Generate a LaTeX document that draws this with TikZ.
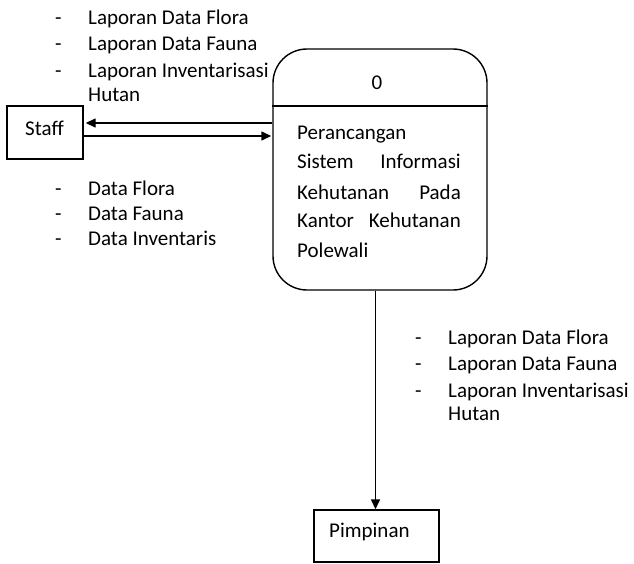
\documentclass[tikz,border=0pt]{standalone}
\usepackage{fontspec}
\setmainfont{Carlito}
\usetikzlibrary{arrows.meta}
\begin{document}
\begin{tikzpicture}[x=1pt,y=-1pt,
  txt/.style={anchor=base west,inner sep=0pt,font=\fontsize{21}{25}\selectfont},
  box/.style={draw,line width=1.4pt,inner sep=0pt},
  flow/.style={line width=1.4pt,-{Triangle[length=10pt,width=9pt]}}]
\useasboundingbox (0,0) rectangle (634,563);
% external entities
\node[box,minimum width=76pt,minimum height=53pt] (staff) at (45,132.5) {};
\node[txt] (staffl) at (25,135) {Staff};
\node[box,minimum width=125pt,minimum height=52pt] (pim) at (376.5,536) {};
\node[txt] (piml) at (329,537) {Pimpinan};
% process
\node[box,rounded corners=34pt,minimum width=214pt,minimum height=241pt] (proc) at (380,169.5) {};
\draw[line width=1.4pt] (proc.west |- 0,106) coordinate (dl) -- (proc.east |- 0,106) coordinate (dr);
\node[txt,anchor=base] (pid) at (377,89) {0};
\node[txt] (p1) at (297,139) {Perancangan};
\node[txt] (p2a) at (297,168) {Sistem};
\node[txt,anchor=base east] (p2b) at (461,168) {Informasi};
\node[txt] (p3a) at (297,199) {Kehutanan};
\node[txt,anchor=base east] (p3b) at (461,199) {Pada};
\node[txt] (p4a) at (297,227) {Kantor};
\node[txt,anchor=base east] (p4b) at (461,227) {Kehutanan};
\node[txt] (p5) at (297,257) {Polewali};
% flows
\draw[flow] (proc.west |- 0,123) -- ([xshift=2pt]staff.east |- 0,123);
\draw[flow] (staff.east |- 0,136) -- ([xshift=-1pt]proc.west |- 0,136);
\draw[flow] ([xshift=-1pt]pim.north |- proc.south) -- ([xshift=-1pt]pim.north);
% labels: top-left
\node[txt] (a1d) at (55,24) {-};
\node[txt] (a1) at (88,24) {Laporan Data Flora};
\node[txt] (a2d) at (55,50) {-};
\node[txt] (a2) at (88,50) {Laporan Data Fauna};
\node[txt] (a3d) at (55,77) {-};
\node[txt] (a3) at (88,77) {Laporan Inventarisasi};
\node[txt] (a4) at (88,101) {Hutan};
% bottom-left
\node[txt] (b1d) at (55,195) {-};
\node[txt] (b1) at (88,195) {Data Flora};
\node[txt] (b2d) at (55,220) {-};
\node[txt] (b2) at (88,220) {Data Fauna};
\node[txt] (b3d) at (55,245) {-};
\node[txt] (b3) at (88,245) {Data Inventaris};
% right
\node[txt] (c1d) at (415,344) {-};
\node[txt] (c1) at (448,344) {Laporan Data Flora};
\node[txt] (c2d) at (415,370) {-};
\node[txt] (c2) at (448,370) {Laporan Data Fauna};
\node[txt] (c3d) at (415,397) {-};
\node[txt] (c3) at (448,397) {Laporan Inventarisasi};
\node[txt] (c4) at (448,420) {Hutan};
\end{tikzpicture}
\end{document}
